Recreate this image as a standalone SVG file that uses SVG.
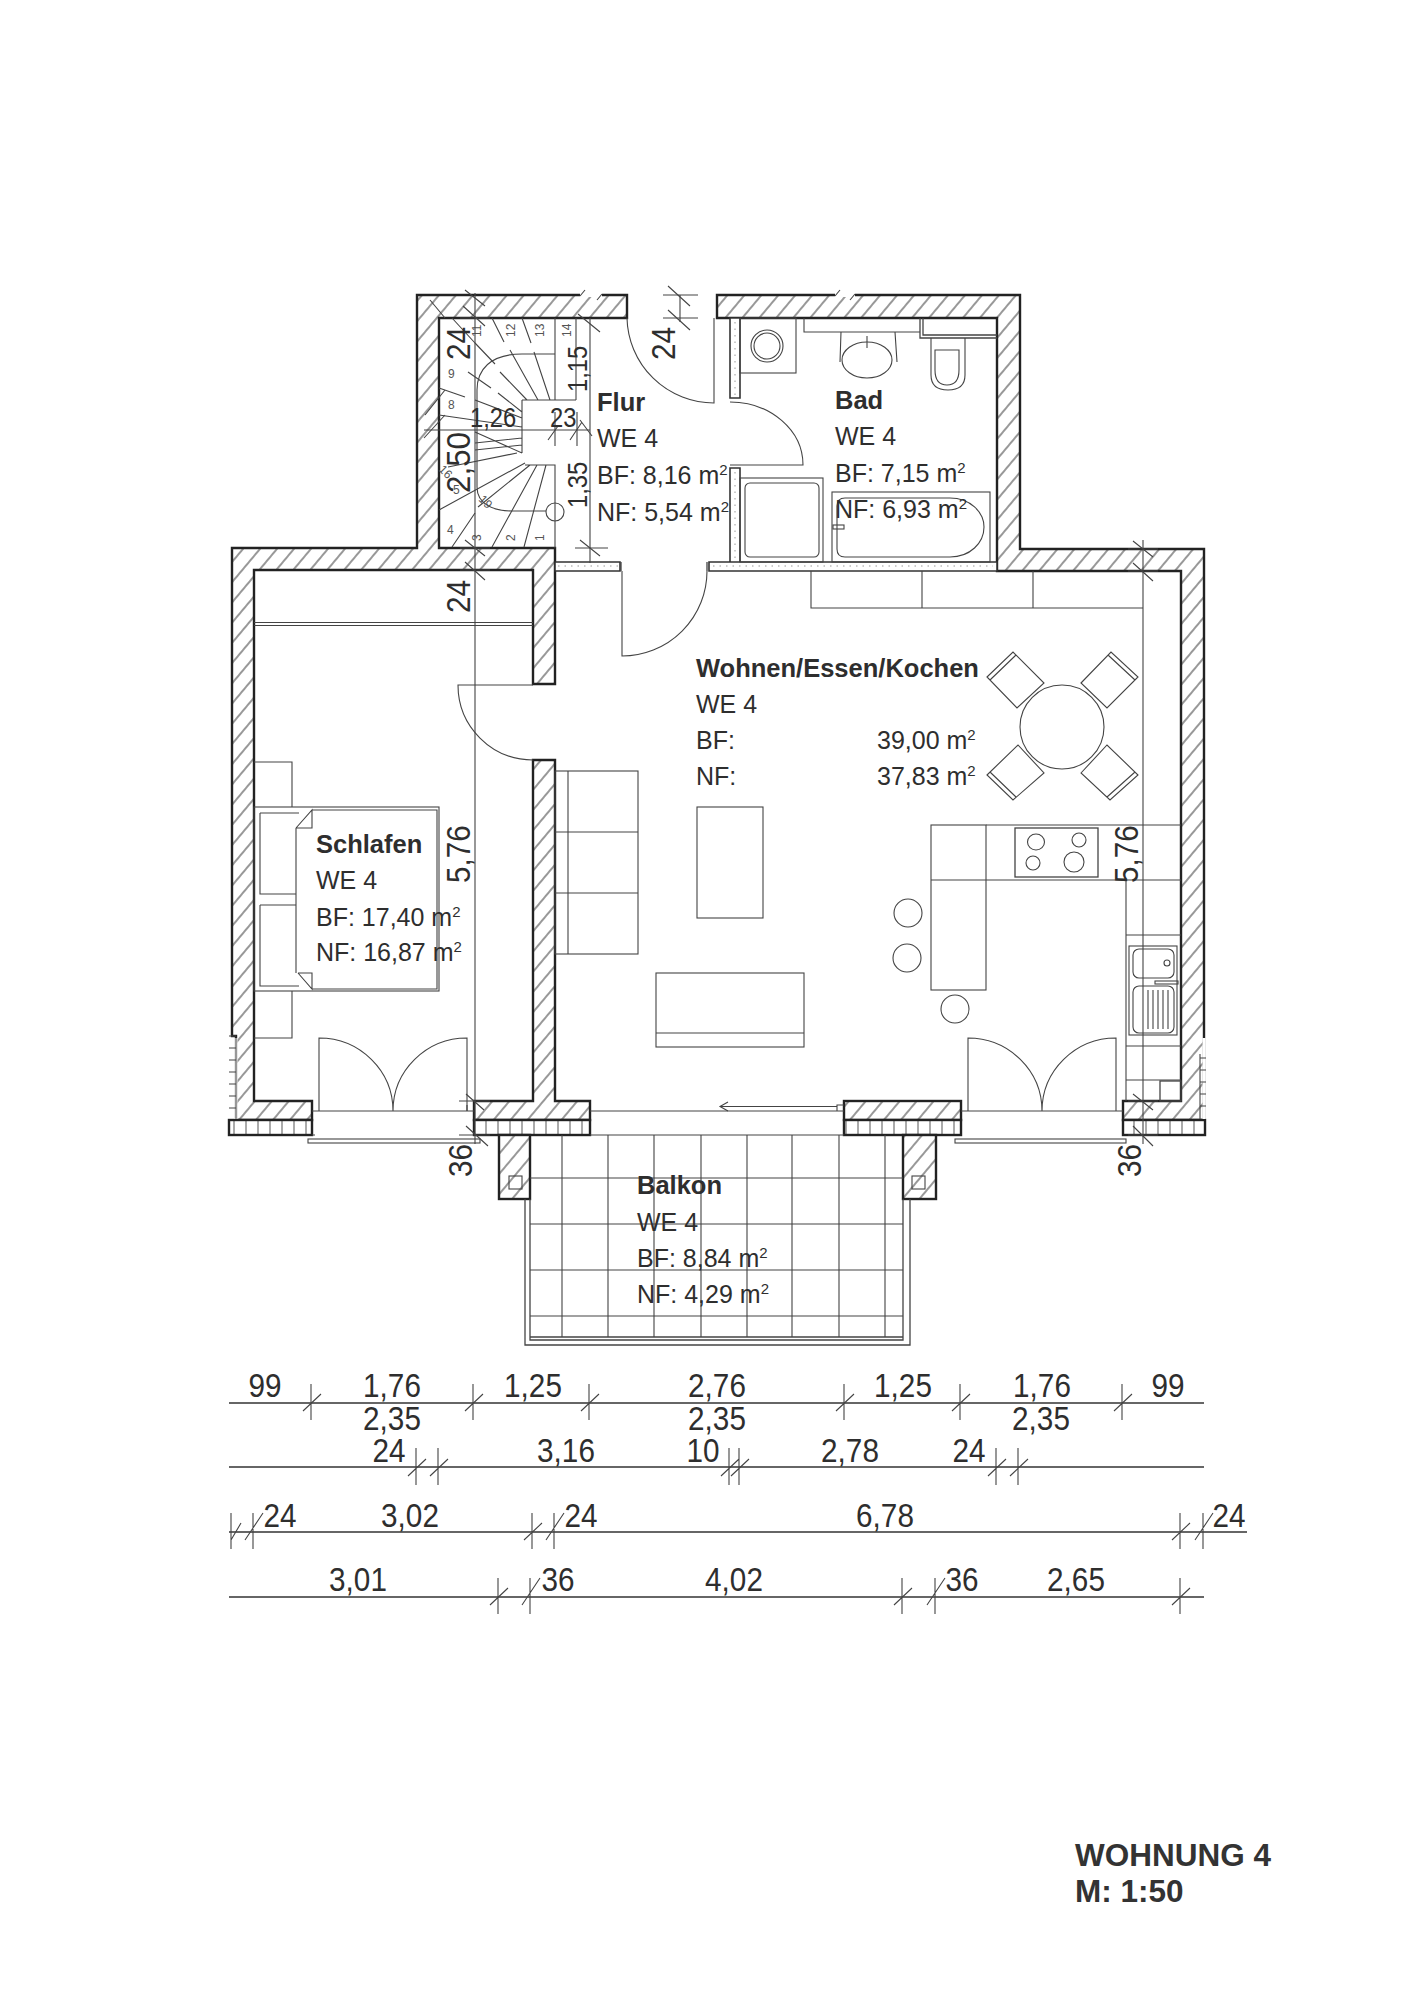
<svg xmlns="http://www.w3.org/2000/svg" width="1414" height="2000" viewBox="0 0 1414 2000">
<style>
text{font-family:"Liberation Sans",Arial,sans-serif;fill:#2e2e2e}
.r{font-size:25px}.b{font-weight:bold;font-size:25.500px}.d{font-size:33px}.s{font-size:27px}.n{font-size:12px;fill:#555}
.sup{font-size:15px}
.t{font-weight:bold;font-size:31.500px;fill:#333}
.w{stroke:#222;stroke-width:2.4;fill:url(#hatch)}
.band{stroke:#222;stroke-width:2.4;fill:url(#ticks)}
.l{fill:none;stroke:#444;stroke-width:1.1}
.m{fill:none;stroke:#444;stroke-width:1.3}
.dl{fill:none;stroke:#666;stroke-width:1.8}
.tw{fill:#fff;stroke:#333;stroke-width:1.6}
.dot{fill:none;stroke:#999;stroke-width:1;stroke-dasharray:1.5 5}
</style>
<defs>
<pattern id="hatch" width="13" height="13" patternUnits="userSpaceOnUse" patternTransform="rotate(40)"><rect width="13" height="13" fill="#fff"/><line x1="6" y1="0" x2="6" y2="13" stroke="#444" stroke-width="1.1"/></pattern>
<pattern id="ticks" width="12" height="20" patternUnits="userSpaceOnUse"><rect width="12" height="20" fill="#fff"/><line x1="6" y1="0" x2="6" y2="20" stroke="#555" stroke-width="1"/></pattern>
</defs>
<rect width="1414" height="2000" fill="#fff"/>

<g id="walls">
<path class="w" d="M417 295H627V318H439V548H555V684H533V570H254V1101H312V1120H236V1036H232V548H417Z"/>
<path class="w" d="M533 760H555V1101H590V1120H474V1101H533Z"/>
<path class="w" d="M717 295H1020V549H1204V1120H1123V1101H1181V571H997V318H717Z"/>
<rect class="w" x="844" y="1101" width="117" height="19"/>
<rect class="band" x="229" y="1120" width="83" height="15"/>
<rect class="band" x="474" y="1120" width="116" height="15"/>
<rect class="band" x="844" y="1120" width="117" height="15"/>
<rect class="band" x="1123" y="1120" width="82" height="15"/>
<path fill="none" stroke="#fff" stroke-width="3" d="M236 1038V1119M1204 1038V1119"/>
<path class="l" d="M236 1038V1119M1200 1054V1119M229 1036H236M229 1048H236M229 1060H236M229 1072H236M229 1084H236M229 1096H236M229 1108H236M1200 1058H1206M1200 1070H1206M1200 1082H1206M1200 1094H1206M1200 1106H1206"/>
<path fill="#fff" stroke="none" d="M580 292h22v5h-22zM835 292h20v5h-20z"/>
<path class="l" d="M580 296l5-6M597 300l5-6M835 296l5-6M850 300l5-6"/>
<path class="tw" d="M555 562H620V571H555ZM709 562H997V571H709ZM730 318H740V398H730ZM730 468H740V562H730Z"/>
<path class="dot" d="M558 566H620M713 566H993M735 322V396M735 472V560"/>
<path class="m" d="M621 562V571M707 562V571"/>
</g>

<g id="doors">
<path class="l" d="M627 318A87 87 0 0 0 714 403V318"/>
<path class="l" d="M730 402A73 63 0 0 1 803 465H730"/>
<path class="l" d="M622 571V656A85 85 0 0 0 707 571"/>
<path class="l" d="M533 685H458A75 75 0 0 0 533 760"/>
<path class="l" d="M319 1111V1038A74 73 0 0 1 393 1111A74 73 0 0 1 467 1038V1111"/>
<path class="l" d="M968 1111V1038A74 73 0 0 1 1042 1111A74 73 0 0 1 1116 1038V1111"/>
<path class="l" d="M312 1111H319M319 1111H467V1105M467 1111H474M961 1111H1123M590 1111H844M844 1105H837V1111"/>
<path class="l" d="M590 1135H844M312 1135H315"/>
<rect class="l" x="308" y="1139" width="172" height="4"/>
<rect class="l" x="955" y="1139" width="171" height="4"/>
<path class="l" d="M837 1106.500H720M728 1102L720 1106.500L728 1111"/>
</g>

<g id="stairs">
<path class="l" d="M492 318L504 342M510 350L538 400M522 318L531 343M534 352L550 400M452 318L475 343M475 343L495 364M500 372L527 400M468 372L491 388M498 393L522 412M439 388L465 397M475 400L522 418M439 415L522 427M475 443L522 438M475 432L522 453M475 450L522 445M448 467L517 453M439 510L525 463M452 547L475 513M478 507L530 465M492 547L537 465M524 547L546 465M555 318V400M576 318V400M522 400H576M522 400V453M525 465H555V548"/>
<path class="l" d="M555 354H522C490 354 477 370 477 390V487C477 505 495 511 512 511H546"/>
<circle class="l" cx="555" cy="512" r="9"/>
<text class="n" transform="translate(481 337) rotate(-90)">11</text>
<text class="n" transform="translate(515 337) rotate(-90)">12</text>
<text class="n" transform="translate(544 337) rotate(-90)">13</text>
<text class="n" transform="translate(571 337) rotate(-90)">14</text>
<text class="n" x="448" y="378">9</text>
<text class="n" x="448" y="409">8</text>
<text class="n" x="447" y="534">4</text>
<text class="n" transform="translate(481 541) rotate(-90)">3</text>
<text class="n" transform="translate(515 541) rotate(-90)">2</text>
<text class="n" transform="translate(544 541) rotate(-90)">1</text>
<text class="n" transform="translate(478 500) rotate(45)">19</text>
<text class="n" transform="translate(438 470) rotate(45)">16</text>
<text class="n" x="453" y="494">5</text>
</g>

<g id="bath">
<rect class="l" x="740" y="318" width="56" height="55"/>
<circle class="l" cx="767" cy="346" r="16"/><circle class="l" cx="767" cy="346" r="13"/>
<path class="l" d="M804 318V332H920M841 332L840 362M895 332L897 362"/>
<ellipse class="l" cx="867" cy="360" rx="25" ry="18"/>
<path class="l" d="M867 336v12"/>
<path class="m" d="M920 318V338H997M923 318V335H997" stroke-width="1.8"/>
<path class="l" d="M931 338V375Q931 390 948 390Q965 390 965 375V338M935 350H959V370Q959 385 947 385Q935 385 935 370Z"/>
<rect class="l" x="740" y="478" width="83" height="84"/>
<rect class="l" x="745" y="483" width="74" height="74" rx="5"/>
<rect class="l" x="832" y="492" width="158" height="70"/>
<path class="l" d="M845 498H950C970 498 984 512 984 527C984 543 970 557 950 557H845Q837 557 837 549V506Q837 498 845 498Z"/>
<rect class="l" x="833" y="525" width="11" height="4"/>
</g>

<g id="bedroom">
<path class="l" d="M254 622.500H533M254 625.500H533"/>
<rect class="l" x="254" y="807" width="185" height="184"/>
<path class="l" d="M312 810H437V989H312M260 813H299M260 813V894H296M260 905V986H299M296 828V973M296 905H260M296 828L312 810V828H296M298 973L312 989V973H298"/>
<path class="l" d="M254 762H292V807M254 1038H292V991"/>
</g>

<g id="living">
<rect class="l" x="555" y="771" width="83" height="183"/>
<path class="l" d="M568 771V954M555 832H638M555 893H638"/>
<rect class="l" x="697" y="807" width="66" height="111"/>
<rect class="l" x="656" y="973" width="148" height="74"/>
<path class="l" d="M656 1033H804"/>
<path class="l" d="M811 571V608H1143M922 571V608M1033 571V608"/>
<circle class="l" cx="1062" cy="727" r="42"/>
<path class="l" d="M987 677L1013 652L1044 683L1017 708ZM990 680L1016 655"/>
<path class="l" d="M1081 683L1111 652L1138 677L1107 708ZM1108 655L1135 680"/>
<path class="l" d="M987 775L1018 745L1044 773L1013 800ZM990 772L1016 797"/>
<path class="l" d="M1081 773L1107 745L1138 775L1110 800ZM1135 772L1107 797"/>
<rect class="l" x="931" y="825" width="55" height="165"/>
<path class="l" d="M931 880H986M986 825H1181M986 880H1181M1126 880V1101"/>
<rect class="m" x="1015" y="828" width="83" height="49"/>
<ellipse class="l" cx="1036" cy="842" rx="8.500" ry="8"/><ellipse class="l" cx="1079" cy="840" rx="7" ry="7"/>
<ellipse class="l" cx="1033" cy="863" rx="7" ry="7"/><ellipse class="l" cx="1074" cy="862" rx="10" ry="10"/>
<circle class="l" cx="908" cy="913" r="14"/><circle class="l" cx="907" cy="958" r="14"/><circle class="l" cx="955" cy="1009" r="14"/>
<path class="l" d="M1126 935H1181M1126 1046H1181M1126 1080H1181"/>
<rect class="l" x="1129" y="946" width="48" height="89"/>
<rect class="l" x="1133" y="949" width="41" height="29" rx="6"/>
<circle class="l" cx="1167" cy="963" r="3"/>
<rect class="l" x="1155" y="981" width="23" height="3"/>
<rect class="l" x="1133" y="986" width="41" height="47" rx="6"/>
<path class="l" d="M1148 990V1029M1153 990V1029M1158 990V1029M1163 990V1029M1168 990V1029"/>
<rect class="m" x="1160" y="1081" width="21" height="20" stroke-width="2"/>
</g>

<g id="balcony">
<rect class="w" x="499" y="1135" width="31" height="64"/>
<rect class="w" x="903" y="1135" width="33" height="64"/>
<rect class="l" x="509" y="1176" width="13" height="13" stroke-width="1.500"/>
<rect class="l" x="912" y="1176" width="13" height="13" stroke-width="1.500"/>
<path class="m" d="M525 1199V1345H910V1199M530 1199V1340H903V1199M530 1337H903"/>
<path class="l" d="M530 1178H903M530 1224H903M530 1270H903M530 1316H903M562 1135V1337M608 1135V1337M654 1135V1337M701 1135V1337M747 1135V1337M792 1135V1337M839 1135V1337M885 1135V1337"/>
</g>

<g id="dimension-lines">
<path class="l" d="M475 293V1144M590 318V563M1143 540V1144M424 430H590M680 295V322M663 295H698M663 318H698M460 318H490M460 548H490M460 570H490M459 1101H490M459 1135H490M575 548H608M1128 549H1158M1128 571H1158M1128 1101H1158M1128 1135H1158M555 412V446M577 412V446"/>
<path class="l" d="M465 290L485 306M463 306L485 326M465 540L485 556M465 562L485 580M466 1094L484 1110M466 1126L488 1146M580 540L600 556M668 286L690 306M668 310L690 330M1133 541L1153 557M1133 563L1153 581M1133 1094L1153 1110M1133 1126L1153 1146M548 440L558 426M570 440L582 422M424 438L445 415M580 420L592 436M578 314L600 332M430 300L445 318M445 390L425 415"/>
<path class="dl" d="M229 1403H1204M229 1467H1204M229 1532H1247M229 1597H1204"/>
<path class="l" d="M311 1384V1420M303 1411L321 1394M473 1384V1420M465 1411L483 1394M589 1384V1420M581 1411L599 1394M844 1384V1420M836 1411L854 1394M960 1384V1420M952 1411L970 1394M1122 1384V1420M1114 1411L1132 1394"/>
<path class="l" d="M416 1448V1485M408 1476L426 1459M438 1448V1485M430 1476L448 1459M729 1448V1485M721 1476L739 1459M739 1448V1485M731 1476L749 1459M996 1448V1485M988 1476L1006 1459M1018 1448V1485M1010 1476L1028 1459"/>
<path class="l" d="M231 1513V1549M231 1540L241 1523M253 1513V1549M245 1540L263 1513M532 1513V1549M524 1540L542 1523M554 1513V1549M546 1540L564 1513M1180 1513V1549M1172 1540L1190 1523M1203 1513V1549M1195 1540L1213 1513"/>
<path class="l" d="M498 1578V1614M490 1605L508 1588M530 1578V1614M522 1605L540 1578M902 1578V1614M894 1605L912 1588M935 1578V1614M927 1605L945 1578M1180 1578V1614M1172 1605L1190 1588"/>
</g>

<g id="labels-rooms">
<text class="b" x="597" y="411">Flur</text>
<text class="r" x="597" y="447">WE 4</text>
<text class="r" x="597" y="484">BF: 8,16 m<tspan class="sup" dy="-9">2</tspan></text>
<text class="r" x="597" y="521">NF: 5,54 m<tspan class="sup" dy="-9">2</tspan></text>
<text class="b" x="835" y="409">Bad</text>
<text class="r" x="835" y="445">WE 4</text>
<text class="r" x="835" y="482">BF: 7,15 m<tspan class="sup" dy="-9">2</tspan></text>
<text class="r" x="835" y="518">NF: 6,93 m<tspan class="sup" dy="-9">2</tspan></text>
<text class="b" x="696" y="677">Wohnen/Essen/Kochen</text>
<text class="r" x="696" y="713">WE 4</text>
<text class="r" x="696" y="749">BF:</text>
<text class="r" x="696" y="785">NF:</text>
<text class="r" x="877" y="749">39,00 m<tspan class="sup" dy="-9">2</tspan></text>
<text class="r" x="877" y="785">37,83 m<tspan class="sup" dy="-9">2</tspan></text>
<text class="b" x="316" y="853">Schlafen</text>
<text class="r" x="316" y="889">WE 4</text>
<text class="r" x="316" y="926">BF: 17,40 m<tspan class="sup" dy="-9">2</tspan></text>
<text class="r" x="316" y="961">NF: 16,87 m<tspan class="sup" dy="-9">2</tspan></text>
<text class="b" x="637" y="1194">Balkon</text>
<text class="r" x="637" y="1231">WE 4</text>
<text class="r" x="637" y="1267">BF: 8,84 m<tspan class="sup" dy="-9">2</tspan></text>
<text class="r" x="637" y="1303">NF: 4,29 m<tspan class="sup" dy="-9">2</tspan></text>
</g>

<g id="labels-dimensions">
<text class="d" transform="translate(470 360) rotate(-90) scale(.9 1)">24</text>
<text class="d" transform="translate(675 360) rotate(-90) scale(.9 1)">24</text>
<text class="d" transform="translate(470 493) rotate(-90) scale(.95 1)">2,50</text>
<text class="s" transform="translate(587 392) rotate(-90) scale(.88 1)">1,15</text>
<text class="s" transform="translate(587 508) rotate(-90) scale(.88 1)">1,35</text>
<text class="s" transform="translate(470 427) scale(.88 1)">1,26</text>
<text class="s" transform="translate(550 427) scale(.88 1)">23</text>
<text class="d" transform="translate(470 613) rotate(-90) scale(.9 1)">24</text>
<text class="d" transform="translate(470 883) rotate(-90) scale(.9 1)">5,76</text>
<text class="d" transform="translate(1138 883) rotate(-90) scale(.9 1)">5,76</text>
<text class="d" transform="translate(472 1177) rotate(-90) scale(.9 1)">36</text>
<text class="d" transform="translate(1141 1177) rotate(-90) scale(.9 1)">36</text>
<g text-anchor="middle">
<text class="d" transform="translate(265 1397) scale(.9 1)">99</text><text class="d" transform="translate(392 1397) scale(.9 1)">1,76</text><text class="d" transform="translate(533 1397) scale(.9 1)">1,25</text><text class="d" transform="translate(717 1397) scale(.9 1)">2,76</text><text class="d" transform="translate(903 1397) scale(.9 1)">1,25</text><text class="d" transform="translate(1042 1397) scale(.9 1)">1,76</text><text class="d" transform="translate(1168 1397) scale(.9 1)">99</text>
<text class="d" transform="translate(392 1430) scale(.9 1)">2,35</text><text class="d" transform="translate(717 1430) scale(.9 1)">2,35</text><text class="d" transform="translate(1041 1430) scale(.9 1)">2,35</text>
<text class="d" transform="translate(389 1462) scale(.9 1)">24</text><text class="d" transform="translate(566 1462) scale(.9 1)">3,16</text><text class="d" transform="translate(703 1462) scale(.9 1)">10</text><text class="d" transform="translate(850 1462) scale(.9 1)">2,78</text><text class="d" transform="translate(969 1462) scale(.9 1)">24</text>
<text class="d" transform="translate(280 1527) scale(.9 1)">24</text><text class="d" transform="translate(410 1527) scale(.9 1)">3,02</text><text class="d" transform="translate(581 1527) scale(.9 1)">24</text><text class="d" transform="translate(885 1527) scale(.9 1)">6,78</text><text class="d" transform="translate(1229 1527) scale(.9 1)">24</text>
<text class="d" transform="translate(358 1591) scale(.9 1)">3,01</text><text class="d" transform="translate(558 1591) scale(.9 1)">36</text><text class="d" transform="translate(734 1591) scale(.9 1)">4,02</text><text class="d" transform="translate(962 1591) scale(.9 1)">36</text><text class="d" transform="translate(1076 1591) scale(.9 1)">2,65</text>
</g>
</g>

<g id="title">
<text class="t" x="1075" y="1866">WOHNUNG 4</text>
<text class="t" x="1075" y="1902">M: 1:50</text>
</g>
</svg>
